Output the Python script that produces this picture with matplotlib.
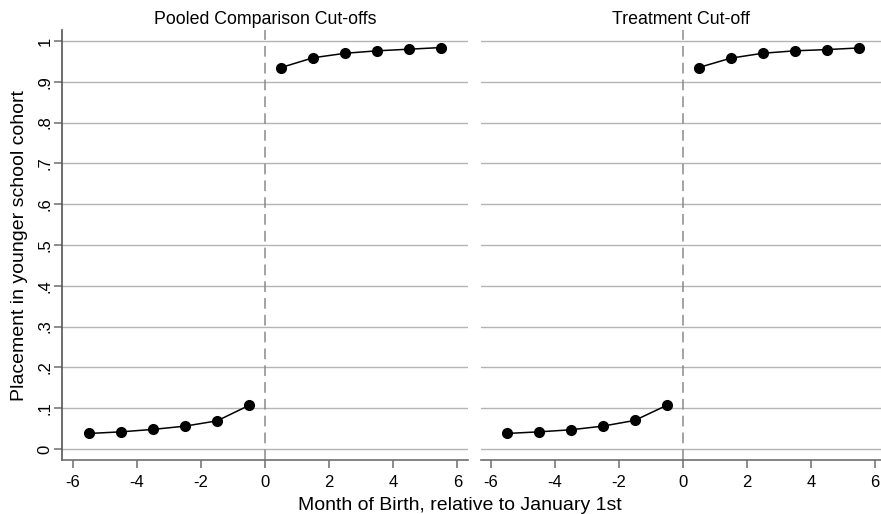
import matplotlib
matplotlib.use("Agg")
import matplotlib.pyplot as plt

plt.rcParams['font.family'] = ['Liberation Sans', 'DejaVu Sans']

months = [-5.5, -4.5, -3.5, -2.5, -1.5, -0.5, 0.5, 1.5, 2.5, 3.5, 4.5, 5.5]
pooled = [0.038, 0.042, 0.048, 0.056, 0.069, 0.107,
          0.935, 0.959, 0.970, 0.976, 0.980, 0.984]
treatment = [0.038, 0.042, 0.047, 0.056, 0.070, 0.107,
             0.935, 0.958, 0.970, 0.976, 0.979, 0.983]
panel_titles = ["Pooled Comparison Cut-offs", "Treatment Cut-off"]
yticks = [0, 0.1, 0.2, 0.3, 0.4, 0.5, 0.6, 0.7, 0.8, 0.9, 1.0]
ytick_labels = ["0", ".1", ".2", ".3", ".4", ".5", ".6", ".7", ".8", ".9", "1"]
xticks = [-6, -4, -2, 0, 2, 4, 6]

W, H = 881, 514
fig = plt.figure(figsize=(W / 100, H / 100), dpi=100)

def px_axes(x0, x1, y0, y1):
    return fig.add_axes([x0 / W, 1 - y1 / H, (x1 - x0) / W, (y1 - y0) / H])

ax_l = px_axes(62, 468, 30, 460)
ax_r = px_axes(481, 881, 30, 460)

grid_c = "#b4b4b4"
spine_c = "#6e6e6e"

for ax, series, title, xlim in [(ax_l, pooled, panel_titles[0], (-6.34, 6.33)),
                                (ax_r, treatment, panel_titles[1], (-6.30, 6.19))]:
    ax.set_xlim(*xlim)
    ax.set_ylim(-0.027, 1.027)
    for yv in yticks:
        ax.axhline(yv, color=grid_c, lw=1.0, zorder=1)
    ax.axvline(0, color="#8a8a8a", lw=1.1, ls=(0, (7, 4)), zorder=2)
    left = [i for i, m in enumerate(months) if m < 0]
    right = [i for i, m in enumerate(months) if m > 0]
    for idx in (left, right):
        ax.plot([months[i] for i in idx], [series[i] for i in idx],
                color="black", lw=1.1, marker="o", ms=7, zorder=3)
    for s in ("top", "right"):
        ax.spines[s].set_visible(False)
    ax.spines["bottom"].set_color(spine_c)
    ax.spines["bottom"].set_linewidth(1.2)
    ax.set_xticks(xticks)
    ax.set_xticklabels([str(v) for v in xticks])
    ax.tick_params(axis="x", direction="out", length=6, width=1.1,
                   color=spine_c, labelsize=12, pad=5)
    ax.set_title(title, fontsize=12.8, pad=4)

ax_l.spines["left"].set_color("#555555")
ax_l.spines["left"].set_linewidth(1.2)
ax_l.set_yticks(yticks)
ax_l.set_yticklabels(ytick_labels, rotation=90, va="center")
ax_l.tick_params(axis="y", direction="out", length=6, width=1.1,
                 color=spine_c, labelsize=12, pad=1)

ax_r.spines["left"].set_visible(False)
ax_r.set_yticks([])

fig.text(20 / W, 1 - 245 / H, "Placement in younger school cohort",
         fontsize=14, rotation=90, ha="center", va="center")
fig.text(460 / W, 1 - 505 / H, "Month of Birth, relative to January 1st",
         fontsize=14, ha="center", va="center")

fig.savefig("out.png", dpi=100)
